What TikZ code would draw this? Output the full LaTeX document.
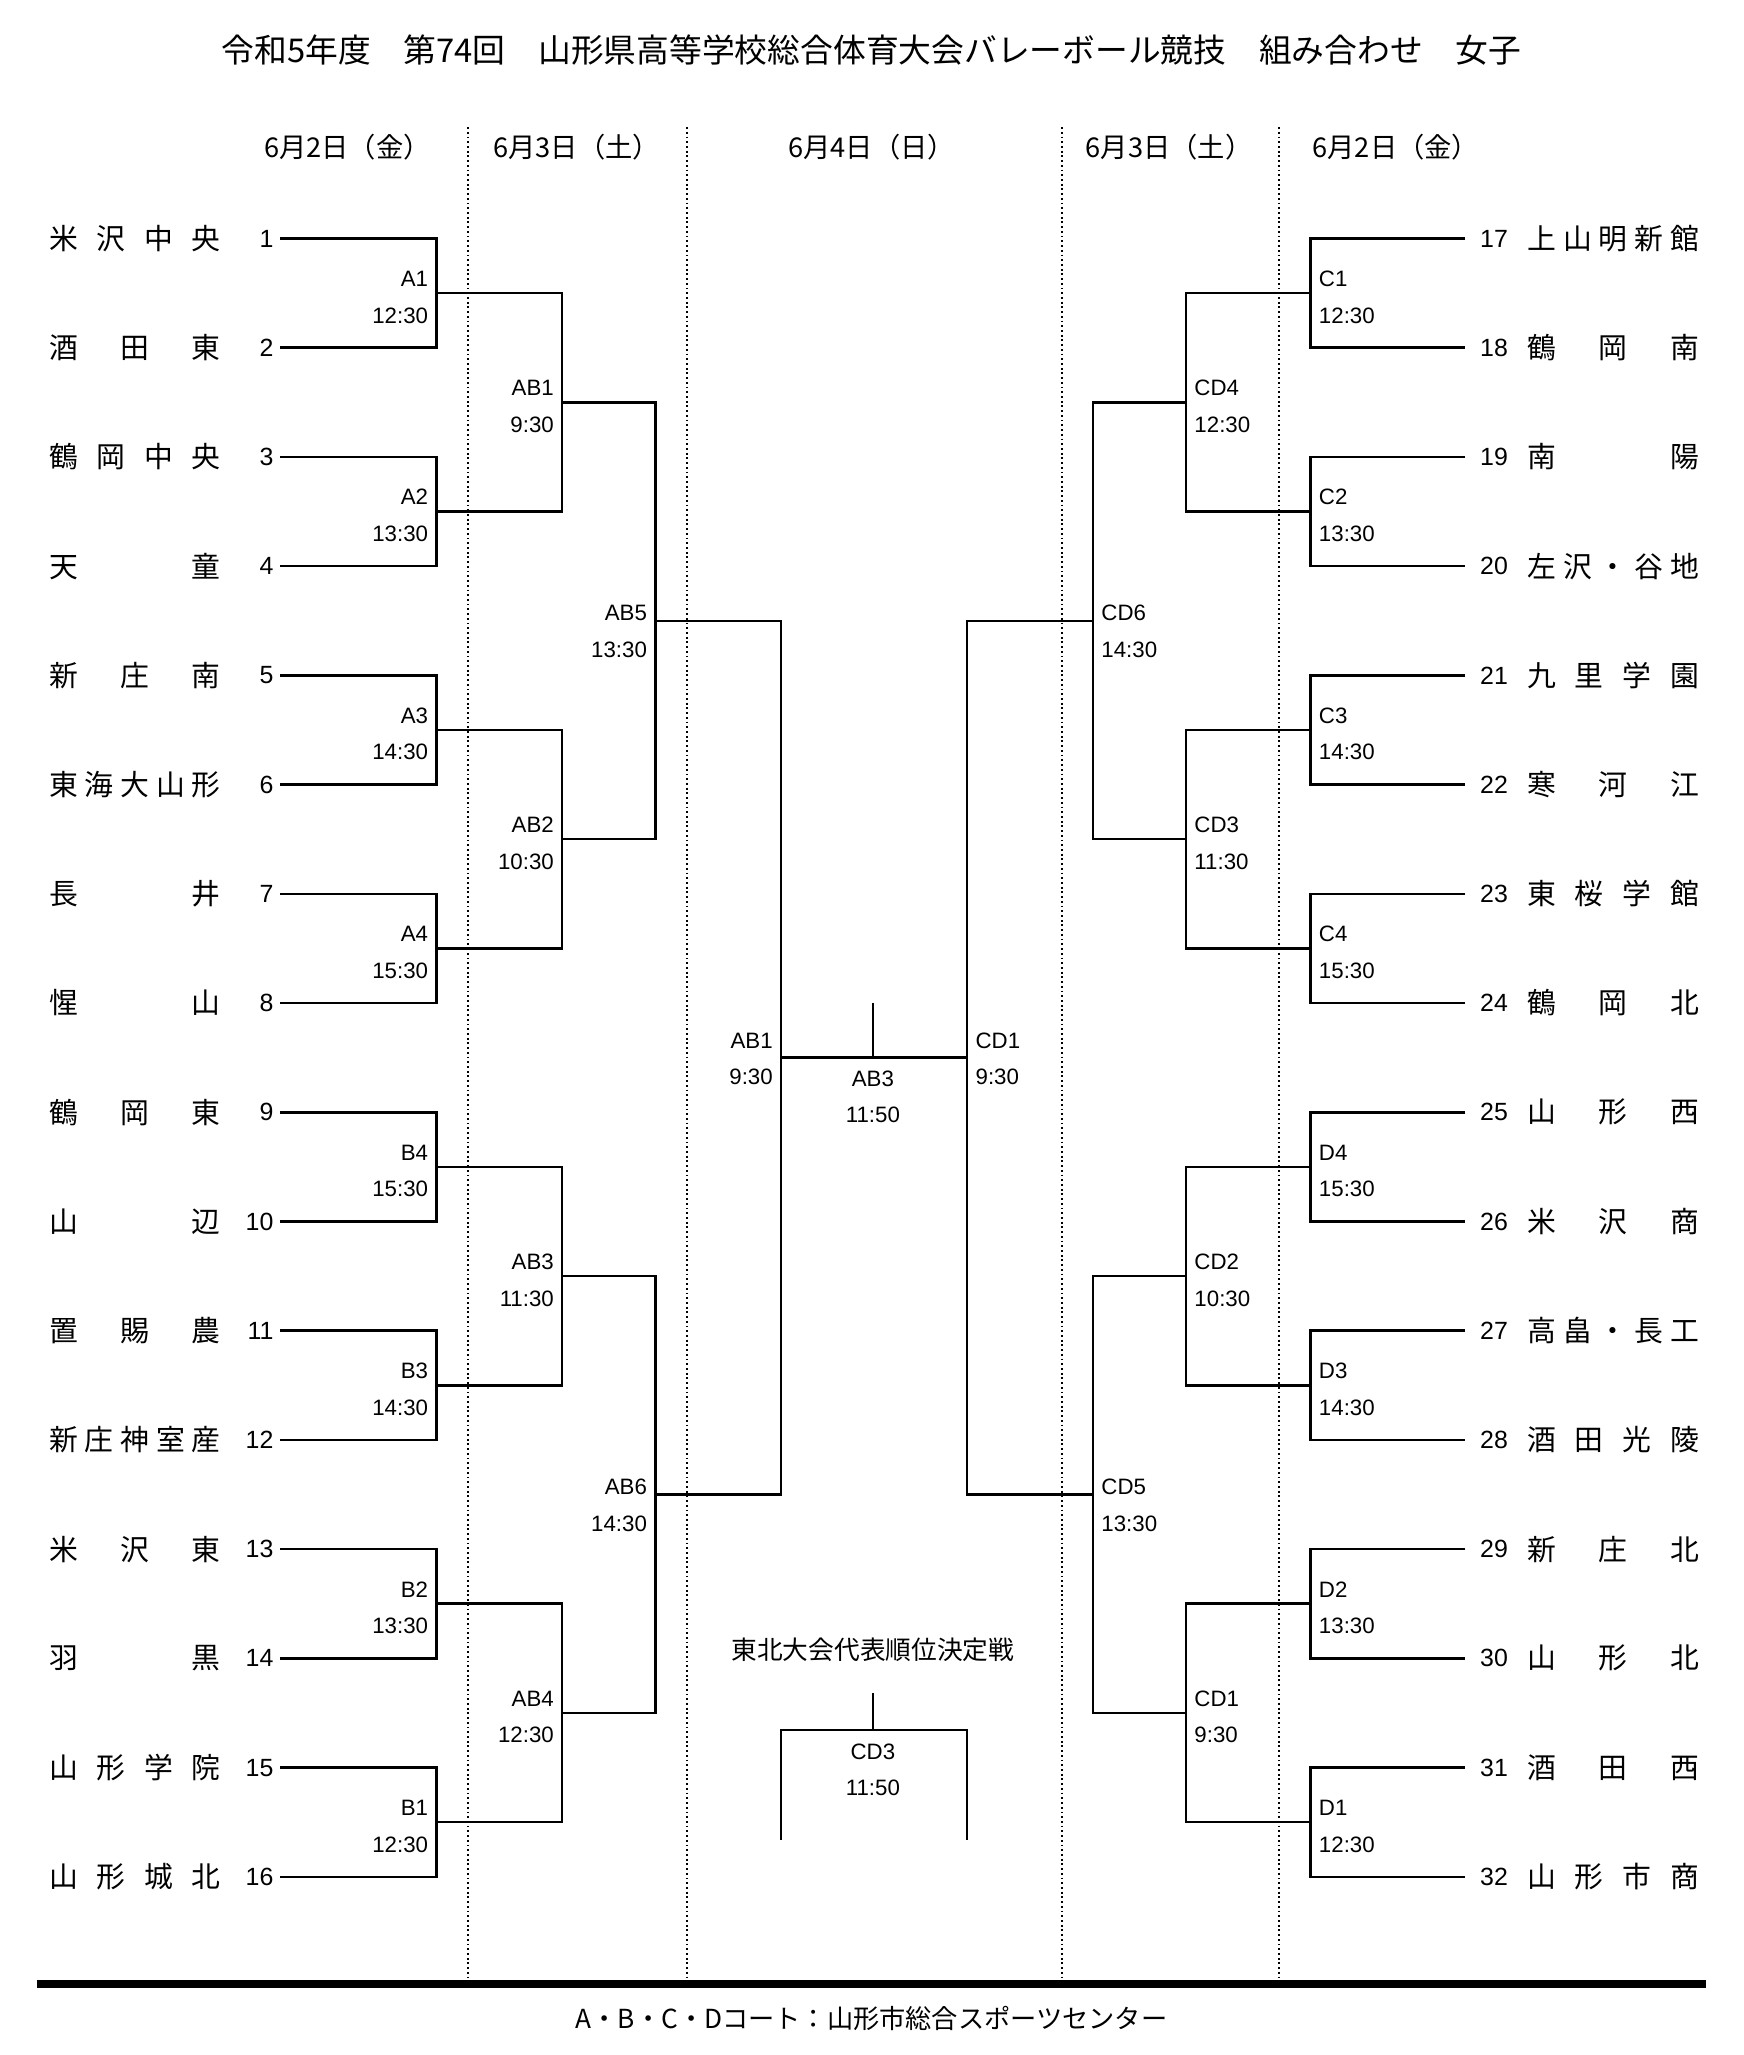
\documentclass[tikz,border=0pt]{standalone}
\usepackage{fontspec}
\setmainfont{Noto Sans CJK JP}
\newfontfamily\lat{Liberation Sans}
\usetikzlibrary{calc}
\newcommand\TL[3]{%
  \node[nm] (nameL#2) at (37,#1) {\makebox[65.5pt]{#3}};
  \node[num,anchor=east] (numL#2) at (209,#1) {#2};
  \coordinate (tL#2) at (214,#1);}
\newcommand\TR[3]{%
  \node[nm] (nameR#2) at (1165,#1) {\makebox[65.5pt]{#3}};
  \node[num,anchor=west] (numR#2) at (1129,#1) {#2};
  \coordinate (tR#2) at (1118,#1);}
\begin{document}
\begin{tikzpicture}[x=0.5pt,y=-0.5pt,
  br/.style={line width=0.95pt},
  dotln/.style={line width=0.7pt, dash pattern=on 0.7pt off 1.1pt},
  lab/.style={font=\lat\fontsize{8.5}{9}\selectfont, inner sep=0pt},
  num/.style={font=\lat\fontsize{9.5}{10}\selectfont, inner sep=0pt},
  nm/.style={font=\fontsize{11}{12}\selectfont, inner sep=0pt, anchor=west},
  hd/.style={font=\fontsize{10.4}{12}\selectfont, inner sep=0pt}]
\useasboundingbox (0,0) rectangle (1330,1568);
% title
\node[font=\fontsize{12.5}{14}\selectfont, inner sep=0pt] (title) at (665,38) {令和5年度　第74回　山形県高等学校総合体育大会バレーボール競技　組み合わせ　女子};
% headers
\node[hd] (h1) at (265,112) {6月2日（金）};
\node[hd] (h2) at (440,112) {6月3日（土）};
\node[hd] (h3) at (665,112) {6月4日（日）};
\node[hd] (h4) at (892,112) {6月3日（土）};
\node[hd] (h5) at (1065,112) {6月2日（金）};
% dotted separators
\foreach \x [count=\i] in {357,524,810,976} {
  \coordinate (dt\i) at (\x,97); \coordinate (db\i) at (\x,1512);
  \draw[dotln] (dt\i) -- (db\i);}
% bottom rule
\coordinate (bl) at (28,1514); \coordinate (brr) at (1302,1514);
\draw[line width=3pt] (bl) -- (brr);
\node[font=\fontsize{10}{12}\selectfont, inner sep=0pt] (foot) at (665,1540) {A・B・C・Dコート：山形市総合スポーツセンター};
% left teams
\TL{182}{1}{米\hfill 沢\hfill 中\hfill 央}
\TL{265.3}{2}{酒\hfill 田\hfill 東}
\TL{348.7}{3}{鶴\hfill 岡\hfill 中\hfill 央}
\TL{432}{4}{天\hfill 童}
\TL{515.3}{5}{新\hfill 庄\hfill 南}
\TL{598.7}{6}{東\hfill 海\hfill 大\hfill 山\hfill 形}
\TL{682}{7}{長\hfill 井}
\TL{765.3}{8}{惺\hfill 山}
\TL{848.7}{9}{鶴\hfill 岡\hfill 東}
\TL{932}{10}{山\hfill 辺}
\TL{1015.3}{11}{置\hfill 賜\hfill 農}
\TL{1098.7}{12}{新\hfill 庄\hfill 神\hfill 室\hfill 産}
\TL{1182}{13}{米\hfill 沢\hfill 東}
\TL{1265.3}{14}{羽\hfill 黒}
\TL{1348.7}{15}{山\hfill 形\hfill 学\hfill 院}
\TL{1432}{16}{山\hfill 形\hfill 城\hfill 北}
% right teams
\TR{182}{17}{上\hfill 山\hfill 明\hfill 新\hfill 館}
\TR{265.3}{18}{鶴\hfill 岡\hfill 南}
\TR{348.7}{19}{南\hfill 陽}
\TR{432}{20}{左\hfill 沢\hfill ・\hfill 谷\hfill 地}
\TR{515.3}{21}{九\hfill 里\hfill 学\hfill 園}
\TR{598.7}{22}{寒\hfill 河\hfill 江}
\TR{682}{23}{東\hfill 桜\hfill 学\hfill 館}
\TR{765.3}{24}{鶴\hfill 岡\hfill 北}
\TR{848.7}{25}{山\hfill 形\hfill 西}
\TR{932}{26}{米\hfill 沢\hfill 商}
\TR{1015.3}{27}{高\hfill 畠\hfill ・\hfill 長\hfill 工}
\TR{1098.7}{28}{酒\hfill 田\hfill 光\hfill 陵}
\TR{1182}{29}{新\hfill 庄\hfill 北}
\TR{1265.3}{30}{山\hfill 形\hfill 北}
\TR{1348.7}{31}{酒\hfill 田\hfill 西}
\TR{1432}{32}{山\hfill 形\hfill 市\hfill 商}
% ---- round 1
\foreach \m/\lb/\tm in {1/A1/12:30,2/A2/13:30,3/A3/14:30,4/A4/15:30,5/B4/15:30,6/B3/14:30,7/B2/13:30,8/B1/12:30} {
  \pgfmathtruncatemacro\a{2*\m-1}\pgfmathtruncatemacro\b{2*\m}
  \coordinate (L1-\m) at (333,{182+(2*\m-1.5)*250/3});
  \draw[br] (tL\a) -| (L1-\m) |- (tL\b);
  \node[lab,anchor=east] (lL1-\m) at ($(L1-\m)+(-6,-11)$) {\lb};
  \node[lab,anchor=east] (tmL1-\m) at ($(L1-\m)+(-6,17)$) {\tm};
  \coordinate (R1-\m) at (1000,{182+(2*\m-1.5)*250/3});
  \pgfmathtruncatemacro\c{16+2*\m-1}\pgfmathtruncatemacro\d{16+2*\m}
  \draw[br] (tR\c) -| (R1-\m) |- (tR\d);}
\foreach \m/\lb/\tm in {1/C1/12:30,2/C2/13:30,3/C3/14:30,4/C4/15:30,5/D4/15:30,6/D3/14:30,7/D2/13:30,8/D1/12:30} {
  \node[lab,anchor=west] (lR1-\m) at ($(R1-\m)+(6,-11)$) {\lb};
  \node[lab,anchor=west] (tmR1-\m) at ($(R1-\m)+(6,17)$) {\tm};}
% round 2
\foreach \k/\lb/\tm in {1/AB1/9:30,2/AB2/10:30,3/AB3/11:30,4/AB4/12:30} {
  \pgfmathtruncatemacro\a{2*\k-1}\pgfmathtruncatemacro\b{2*\k}
  \coordinate (L2-\k) at (429,{182+(4*\k-2.5)*250/3});
  \draw[br] (L1-\a) -| (L2-\k) |- (L1-\b);
  \node[lab,anchor=east] (lL2-\k) at ($(L2-\k)+(-6,-11)$) {\lb};
  \node[lab,anchor=east] (tmL2-\k) at ($(L2-\k)+(-6,17)$) {\tm};
  \coordinate (R2-\k) at (905,{182+(4*\k-2.5)*250/3});
  \draw[br] (R1-\a) -| (R2-\k) |- (R1-\b);}
\foreach \k/\lb/\tm in {1/CD4/12:30,2/CD3/11:30,3/CD2/10:30,4/CD1/9:30} {
  \node[lab,anchor=west] (lR2-\k) at ($(R2-\k)+(6,-11)$) {\lb};
  \node[lab,anchor=west] (tmR2-\k) at ($(R2-\k)+(6,17)$) {\tm};}
% round 3
\foreach \j/\lb/\tm in {1/AB5/13:30,2/AB6/14:30} {
  \pgfmathtruncatemacro\a{2*\j-1}\pgfmathtruncatemacro\b{2*\j}
  \coordinate (L3-\j) at (500,{182+(8*\j-4.5)*250/3});
  \draw[br] (L2-\a) -| (L3-\j) |- (L2-\b);
  \node[lab,anchor=east] (lL3-\j) at ($(L3-\j)+(-6,-6)$) {\lb};
  \node[lab,anchor=east] (tmL3-\j) at ($(L3-\j)+(-6,22)$) {\tm};
  \coordinate (R3-\j) at (834,{182+(8*\j-4.5)*250/3});
  \draw[br] (R2-\a) -| (R3-\j) |- (R2-\b);}
\foreach \j/\lb/\tm in {1/CD6/14:30,2/CD5/13:30} {
  \node[lab,anchor=west] (lR3-\j) at ($(R3-\j)+(6,-6)$) {\lb};
  \node[lab,anchor=west] (tmR3-\j) at ($(R3-\j)+(6,22)$) {\tm};}
% round 4 and final
\coordinate (L4) at (596,807);
\coordinate (R4) at (738,807);
\draw[br] (L3-1) -| (L4) |- (L3-2);
\draw[br] (R3-1) -| (R4) |- (R3-2);
\draw[br] (L4) -- (R4);
\node[lab,anchor=east] (lL4) at ($(L4)+(-6,-13)$) {AB1};
\node[lab,anchor=east] (tmL4) at ($(L4)+(-6,15)$) {9:30};
\node[lab,anchor=west] (lR4) at ($(R4)+(6,-13)$) {CD1};
\node[lab,anchor=west] (tmR4) at ($(R4)+(6,15)$) {9:30};
\coordinate (ftop) at (666,765);
\coordinate (fmid) at (666,807);
\draw[br] (ftop) -- (fmid);
\node[lab] (fl) at (666,823) {AB3};
\node[lab] (ft) at (666,851) {11:50};
% third place
\node[font=\fontsize{9.8}{11}\selectfont, inner sep=0pt] (tohoku) at (666,1259) {東北大会代表順位決定戦};
\coordinate (c3t) at (666,1292);
\coordinate (c3m) at (666,1320);
\coordinate (c3a) at (596,1320);
\coordinate (c3b) at (738,1320);
\coordinate (c3l) at (596,1404);
\coordinate (c3r) at (738,1404);
\draw[br] (c3l) -- (c3a) -- (c3b) -- (c3r);
\draw[br] (c3t) -- (c3m);
\node[lab] (c3lab) at (666,1337) {CD3};
\node[lab] (c3tm) at (666,1364) {11:50};
\end{tikzpicture}
\end{document}
